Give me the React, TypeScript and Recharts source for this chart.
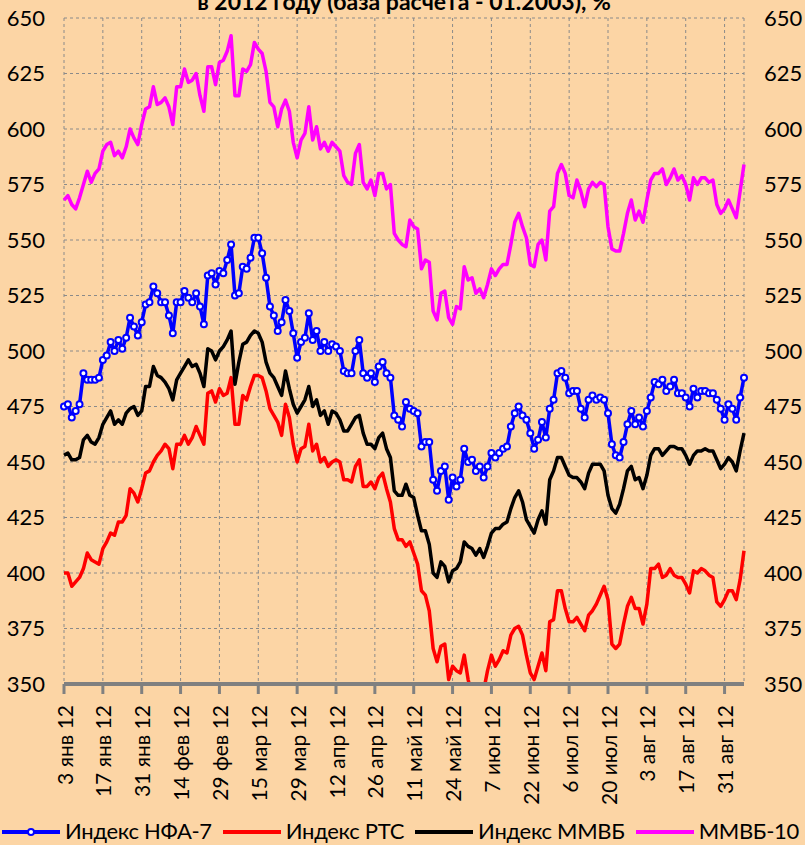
import { LineChart, Line, XAxis, YAxis, CartesianGrid } from "recharts";

// trading days, one tick every 10 sessions
const tickLabels = [
  "3 янв 12", "17 янв 12", "31 янв 12", "14 фев 12", "29 фев 12", "15 мар 12",
  "29 мар 12", "12 апр 12", "26 апр 12", "11 май 12", "24 май 12", "7 июн 12",
  "22 июн 12", "6 июл 12", "20 июл 12", "3 авг 12", "17 авг 12", "31 авг 12",
];
const TICK_STEP = 10;

const yTicks = [350, 375, 400, 425, 450, 475, 500, 525, 550, 575, 600, 625, 650];

// Индекс НФА-7
const nfa7 = [
  475, 476, 470, 473, 476, 490, 487, 487, 487, 488,
  496, 498, 504, 500, 505, 501, 506, 515, 511, 507,
  513, 521, 522, 529, 526, 522, 522, 516, 508, 522,
  522, 527, 524, 522, 526, 520, 512, 534, 535, 530,
  536, 535, 541, 548, 525, 526, 538, 537, 542, 551,
  551, 544, 533, 520, 516, 509, 513, 523, 518, 508,
  497, 504, 506, 517, 505, 509, 500, 504, 500, 503,
  502, 500, 491, 490, 490, 500, 505, 490, 488, 490,
  486, 493, 495, 490, 488, 471, 469, 466, 477, 474,
  473, 472, 457, 459, 459, 442, 437, 446, 448, 433,
  443, 439, 442, 456, 450, 451, 446, 448, 443, 448,
  454, 452, 454, 456, 457, 466, 472, 475, 471, 469,
  463, 456, 460, 468, 461, 474, 478, 490, 491, 488,
  481, 482, 482, 474, 470, 478, 480, 478, 479, 478,
  472, 458, 453, 452, 459, 467, 473, 467, 470, 466,
  473, 479, 486, 485, 487, 482, 484, 487, 481, 481,
  479, 475, 483, 479, 482, 482, 481, 481, 478, 474,
  469, 476, 474, 469, 479, 488,
];

// Индекс РТС
const rts = [
  400, 400, 394, 396, 398, 402, 409, 406, 405, 404,
  411, 414, 418, 417, 423, 423, 426, 438, 436, 432,
  438, 445, 446, 450, 453, 455, 458, 456, 447, 458,
  458, 462, 458, 461, 466, 462, 458, 481, 482, 477,
  483, 480, 481, 488, 467, 467, 480, 478, 484, 489,
  489, 488, 482, 474, 471, 468, 462, 476, 470, 458,
  450, 456, 457, 467, 455, 458, 450, 452, 448, 450,
  451, 450, 442, 442, 441, 448, 451, 439, 439, 441,
  438, 443, 445, 438, 432, 420, 415, 415, 412, 414,
  409, 404, 392, 390, 383, 366, 360, 367, 368, 352,
  358, 356, 355, 363, 352, 345, 343, 344, 347, 356,
  363, 358, 361, 365, 364, 372, 375, 376, 372, 363,
  355, 352, 358, 364, 356, 378, 379, 392, 392, 384,
  378, 378, 380, 377, 374, 381, 383, 386, 390, 394,
  388, 368, 366, 368, 377, 385, 389, 384, 384, 377,
  386, 402, 402, 404, 398, 399, 402, 399, 398, 398,
  395, 391, 401, 400, 402, 401, 399, 398, 387, 385,
  388, 392, 392, 388, 397, 410,
];

// Индекс ММВБ
const micex = [
  453, 454, 451, 451, 452, 460, 462, 459, 458, 461,
  467, 470, 473, 467, 469, 467, 472, 474, 475, 471,
  473, 484, 484, 493, 489, 488, 486, 483, 478, 487,
  490, 493, 496, 493, 494, 490, 484, 501, 500, 496,
  500, 502, 505, 509, 485, 495, 503, 504, 507, 509,
  508, 504, 495, 490, 488, 484, 480, 491, 483, 476,
  472, 475, 478, 484, 475, 478, 471, 473, 467, 473,
  472, 469, 464, 464, 467, 470, 471, 463, 458, 458,
  456, 461, 463, 456, 452, 437, 435, 435, 440, 435,
  434, 426, 419, 419, 413, 400, 398, 405, 403, 396,
  401, 402, 405, 414, 412, 411, 408, 411, 407, 412,
  418, 420, 420, 422, 423, 429, 434, 437, 432, 424,
  421, 418, 424, 428, 422, 442, 446, 452, 452, 448,
  444, 443, 443, 441, 438, 445, 449, 449, 449, 446,
  435, 429, 427, 431, 438, 446, 448, 442, 443, 438,
  444, 453, 456, 456, 453, 455, 457, 457, 456, 456,
  453, 449, 453, 455, 455, 456, 455, 455, 451, 447,
  449, 452, 450, 446, 455, 463,
];

// ММВБ-10
const micex10 = [
  568, 570, 566, 564, 569, 575, 581, 576, 580, 582,
  590, 593, 594, 588, 590, 587, 592, 600, 596, 593,
  602, 609, 610, 619, 611, 612, 614, 610, 602, 619,
  619, 627, 621, 622, 625, 615, 608, 628, 628, 620,
  630, 631, 635, 642, 615, 615, 627, 626, 629, 639,
  636, 634, 626, 612, 610, 601, 609, 613, 608, 594,
  587, 595, 598, 610, 595, 601, 591, 594, 590, 594,
  592, 590, 579, 576, 575, 589, 593, 576, 573, 577,
  570, 580, 580, 573, 575, 553, 550, 548, 547, 559,
  556, 555, 537, 541, 540, 518, 514, 526, 527, 515,
  512, 520, 519, 538, 532, 533, 526, 528, 524, 530,
  537, 534, 537, 539, 539, 548, 558, 562, 556, 551,
  539, 538, 548, 550, 541, 563, 565, 580, 584, 580,
  570, 569, 577, 572, 565, 573, 576, 574, 576, 575,
  556, 546, 545, 545, 553, 562, 568, 559, 563, 558,
  568, 577, 580, 580, 582, 575, 578, 582, 577, 579,
  575, 568, 578, 575, 578, 578, 576, 577, 566, 562,
  564, 568, 564, 560, 572, 584,
];

const series = [
  { key: "nfa7", name: "Индекс НФА-7", color: "#0000ff", marker: true },
  { key: "rts", name: "Индекс РТС", color: "#ff0000", marker: false },
  { key: "micex", name: "Индекс ММВБ", color: "#000000", marker: false },
  { key: "micex10", name: "ММВБ-10", color: "#ff00ff", marker: false },
];

const data = nfa7.map((v, i) => ({
  day: i,
  nfa7: v,
  rts: rts[i],
  micex: micex[i],
  micex10: micex10[i],
}));

const xTicks = tickLabels.map((_, k) => k * TICK_STEP);

const FONT = "Lato, 'Open Sans', sans-serif";
const BG = "#fcd5a5";

function DateTick({ x, y, payload }: any) {
  return (
    <text
      x={x}
      y={y}
      transform={`rotate(-90 ${x} ${y})`}
      textAnchor="end"
      dominantBaseline="central"
      fontSize={21}
      fontFamily={FONT}
      fill="#000"
    >
      {tickLabels[Math.round(payload.value / TICK_STEP)]}
    </text>
  );
}

function LegendRow() {
  return (
    <div
      style={{
        position: "absolute",
        left: 2,
        top: 818,
        height: 26,
        display: "flex",
        alignItems: "center",
        whiteSpace: "nowrap",
        fontFamily: FONT,
        fontSize: 22,
        lineHeight: "26px",
        letterSpacing: -0.3,
        color: "#000",
      }}
    >
      {series.map((s) => (
        <div key={s.key} style={{ display: "flex", alignItems: "center", marginRight: 11 }}>
          <svg width={58} height={20} style={{ marginRight: 5, marginTop: 2 }}>
            <line x1={0} y1={10} x2={58} y2={10} stroke={s.color} strokeWidth={4} />
            {s.marker && <circle cx={29} cy={10} r={3} fill="#fff" stroke={s.color} strokeWidth={2} />}
          </svg>
          <span>{s.name}</span>
        </div>
      ))}
    </div>
  );
}

export default function App() {
  return (
    <div
      style={{
        position: "absolute",
        left: 0,
        top: 0,
        width: 805,
        height: 845,
        background: BG,
        overflow: "hidden",
      }}
    >
      <LineChart width={805} height={845} data={data} margin={{ top: 18, right: 0, bottom: 40, left: 0 }}>
        <CartesianGrid stroke="#8a8a8a" strokeDasharray="3 3" />
        <XAxis
          dataKey="day"
          type="number"
          domain={[0, nfa7.length - 1]}
          ticks={xTicks}
          interval={0}
          height={121}
          tick={<DateTick />}
          tickSize={10}
          tickMargin={11}
          axisLine={{ stroke: "#808080", strokeWidth: 4 }}
          tickLine={{ stroke: "#808080", strokeWidth: 3 }}
        />
        <YAxis
          domain={[350, 650]}
          ticks={yTicks}
          allowDataOverflow
          width={64}
          axisLine={false}
          tickLine={false}
          tickSize={0}
          tickMargin={19}
          tick={{ fill: "#000", fontSize: 22, fontFamily: FONT }}
        />
        <YAxis
          yAxisId="right"
          orientation="right"
          domain={[350, 650]}
          ticks={yTicks}
          allowDataOverflow
          width={61}
          axisLine={false}
          tickLine={false}
          tickSize={0}
          tickMargin={20}
          tick={{ fill: "#000", fontSize: 22, fontFamily: FONT }}
        />
        {series.map((s) => (
          <Line
            key={s.key}
            dataKey={s.key}
            name={s.name}
            type="linear"
            stroke={s.color}
            strokeWidth={3.5}
            strokeLinejoin="round"
            dot={s.marker ? { r: 3, fill: "#fff", stroke: s.color, strokeWidth: 2 } : false}
            activeDot={false}
            isAnimationActive={false}
          />
        ))}
      </LineChart>
      <svg width={805} height={20} style={{ position: "absolute", left: 0, top: 0, pointerEvents: "none" }}>
        <text x={404} y={10} textAnchor="middle" fontSize={23} fontWeight="bold" fontFamily={FONT} fill="#000">
          в 2012 году (база расчета - 01.2003), %
        </text>
      </svg>
      <LegendRow />
    </div>
  );
}
